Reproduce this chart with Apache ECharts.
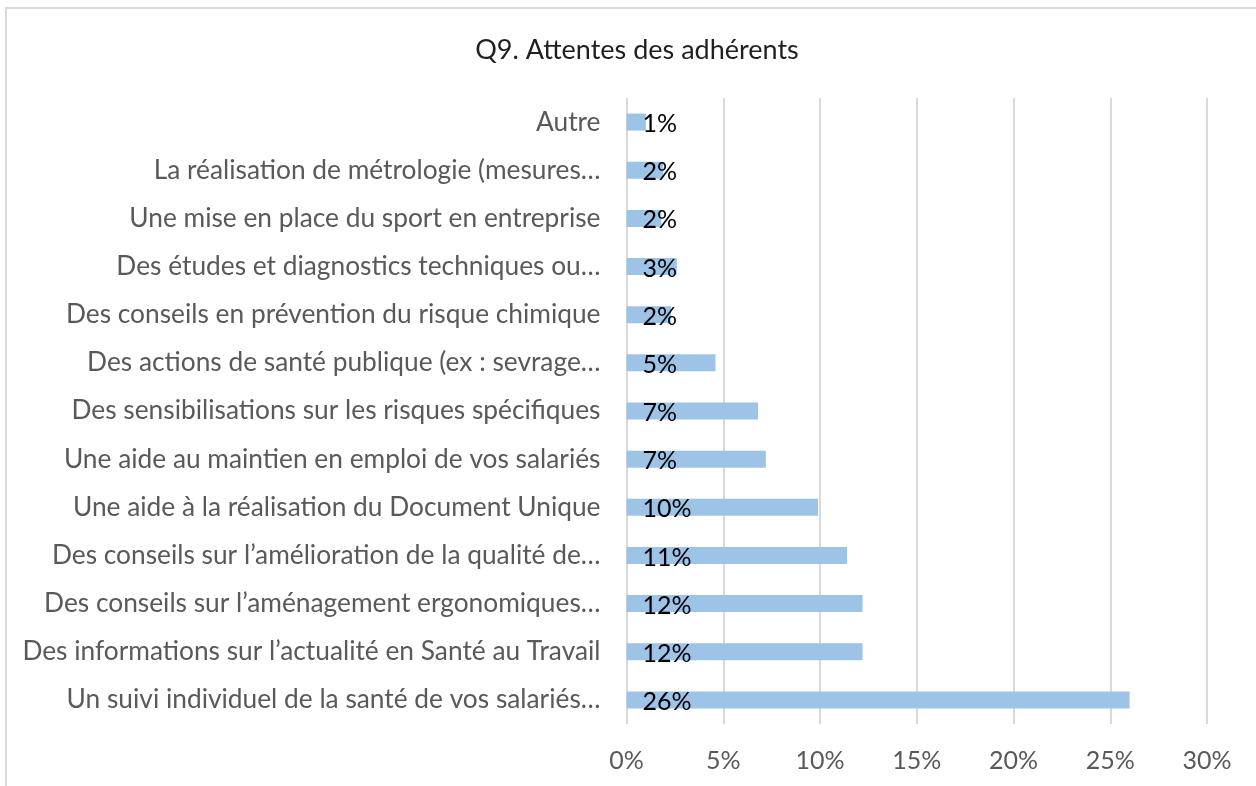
<!DOCTYPE html>
<html>
<head>
<meta charset="utf-8">
<script src="https://cdn.jsdelivr.net/npm/echarts@6/dist/echarts.min.js"></script>
<style>html,body{margin:0;padding:0;background:#fff;}#c{width:1256px;height:786px;}</style>
</head>
<body>
<div id="c"></div>
<script>
const title = "Q9. Attentes des adhérents";
const categories = [
  "Autre",
  "La réalisation de métrologie (mesures…",
  "Une mise en place du sport en entreprise",
  "Des études et diagnostics techniques ou…",
  "Des conseils en prévention du risque chimique",
  "Des actions de santé publique (ex : sevrage…",
  "Des sensibilisations sur les risques spécifiques",
  "Une aide au maintien en emploi de vos salariés",
  "Une aide à la réalisation du Document Unique",
  "Des conseils sur l’amélioration de la qualité de…",
  "Des conseils sur l’aménagement ergonomiques…",
  "Des informations sur l’actualité en Santé au Travail",
  "Un suivi individuel de la santé de vos salariés…"
];
const values = [1.0, 1.9, 1.8, 2.6, 2.3, 4.6, 6.8, 7.2, 9.9, 11.4, 12.2, 12.2, 26.0];
const xTicks = [0, 5, 10, 15, 20, 25, 30];

const chart = echarts.init(document.getElementById('c'), null, {renderer: 'canvas'});
chart.setOption({
  animation: false,
  backgroundColor: '#ffffff',
  textStyle: {fontFamily: 'Lato'},
  graphic: [{
    type: 'rect', silent: true, z: -10,
    shape: {x: 6, y: 8, width: 1300, height: 900},
    style: {fill: 'none', stroke: '#d9d9d9', lineWidth: 2}
  }],
  title: {
    text: title, left: 632, top: 32, textAlign: 'center',
    textStyle: {fontFamily: 'Lato', fontSize: 27, fontWeight: 'normal', color: '#1f1f1f'}
  },
  grid: {left: 626.5, right: 49, top: 98, bottom: 62, containLabel: false},
  xAxis: {
    type: 'value', min: xTicks[0], max: xTicks[xTicks.length - 1], interval: 5,
    axisLine: {show: false}, axisTick: {show: false},
    splitLine: {show: true, lineStyle: {color: '#d9d9d9', width: 2}},
    axisLabel: {formatter: '{value}%', color: '#595959', fontSize: 25, margin: 24, fontFamily: 'Lato'}
  },
  yAxis: {
    type: 'category', data: categories, inverse: true,
    axisLine: {show: false}, axisTick: {show: false},
    axisLabel: {color: '#595959', fontSize: 26.3, margin: 26, fontFamily: 'Lato'}
  },
  series: [{
    type: 'bar', data: values, barWidth: 17,
    itemStyle: {color: '#9dc3e6'},
    label: {
      show: true, position: 'insideLeft', distance: 16, offset: [0, 2],
      formatter: p => Math.round(p.value) + '%',
      color: '#000000', fontSize: 25, fontFamily: 'Lato'
    }
  }]
});
</script>
</body>
</html>
